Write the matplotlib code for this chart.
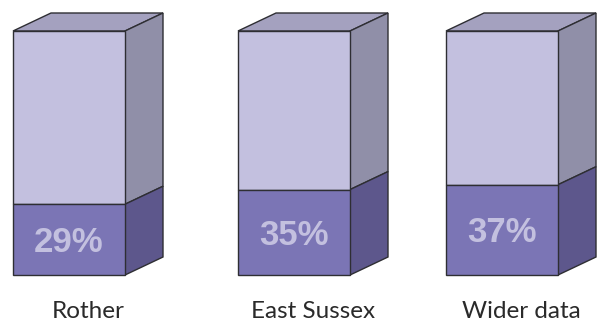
import matplotlib
matplotlib.use('Agg')
import matplotlib.pyplot as plt

# data
categories = ['Rother', 'East Sussex', 'Wider data']
values = [29, 35, 37]
labels = ['29%', '35%', '37%']

# layout (pixels)
box_left = [13, 238, 446]
box_w = 112
top = 31
bottom = 275
dx, dy = 38, 18

front_top = '#c3c0df'
top_face = '#a4a1bf'
side_top = '#908fa8'
front_low = '#7b75b5'
side_low = '#5d578c'
edge = '#2e2e33'

fig = plt.figure(figsize=(6, 3.22), dpi=100)
ax = fig.add_axes([0, 0, 1, 1])
ax.set_xlim(0, 600)
ax.set_ylim(322, 0)
ax.axis('off')

H = bottom - top
for x0, v, lab, cat in zip(box_left, values, labels, categories):
    x1 = x0 + box_w
    split = bottom - H * v / 100
    kw = dict(edgecolor=edge, linewidth=1.0, joinstyle='miter')
    # top face
    ax.fill([x0, x1, x1 + dx, x0 + dx], [top, top, top - dy, top - dy], facecolor=top_face, **kw)
    # side faces
    ax.fill([x1, x1 + dx, x1 + dx, x1], [top, top - dy, split - dy, split], facecolor=side_top, **kw)
    ax.fill([x1, x1 + dx, x1 + dx, x1], [split, split - dy, bottom - dy, bottom], facecolor=side_low, **kw)
    # front faces
    ax.fill([x0, x1, x1, x0], [top, top, split, split], facecolor=front_top, **kw)
    ax.fill([x0, x1, x1, x0], [split, split, bottom, bottom], facecolor=front_low, **kw)
    ax.text((x0 + x1) / 2, (split + bottom) / 2 + 3, lab, ha='center', va='center',
            fontsize=25, fontweight='bold', color=front_top, family='Liberation Sans')
    ax.text(x0 + (box_w + dx) / 2, 311, cat, ha='center', va='center',
            fontsize=17.5, color='#2a2a2a', family='Lato')

fig.savefig('out.png', dpi=100)
